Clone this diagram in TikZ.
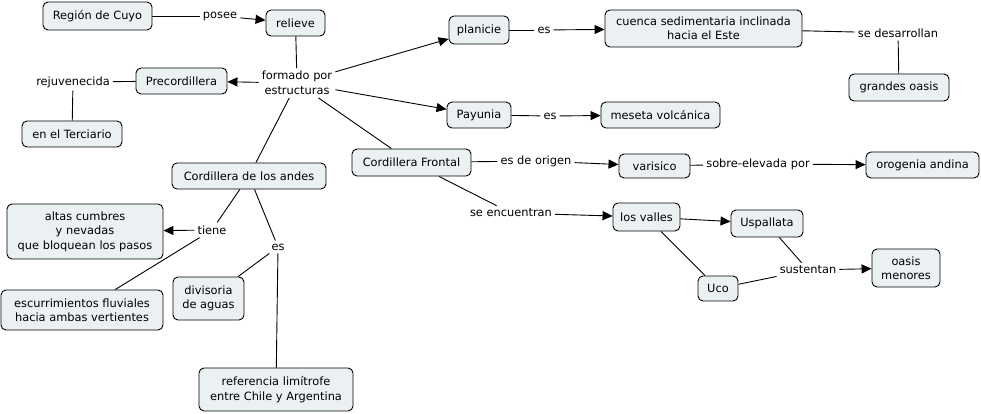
\documentclass[tikz,border=0pt]{standalone}
\usepackage{fontspec}
\setmainfont{DejaVu Sans}
\usetikzlibrary{arrows.meta}
\definecolor{boxfill}{HTML}{EBF1F3}
\begin{document}
\begin{tikzpicture}[x=1pt,y=-1pt,
  concept/.style={draw, rounded corners=5pt, fill=boxfill, align=center,
    font=\fontsize{11.4}{14.5}\selectfont, inner sep=0pt, line width=0.9pt},
  lbl/.style={align=center, font=\fontsize{11.4}{14.5}\selectfont, inner sep=3pt},
  link/.style={line width=0.9pt},
  arr/.style={link, -{Triangle[length=10pt,width=9pt]}}]
\useasboundingbox (0,0) rectangle (981,414);

% concepts
\node[concept, minimum width=109, minimum height=28] (cuyo) at (97.5,16) {Región de Cuyo};
\node[concept, minimum width=59, minimum height=26] (relieve) at (295.5,23) {relieve};
\node[concept, minimum width=91, minimum height=26] (precord) at (181.5,81) {Precordillera};
\node[concept, minimum width=100, minimum height=26] (terciario) at (72,134) {en el Terciario};
\node[concept, minimum width=60, minimum height=28] (planicie) at (479,30) {planicie};
\node[concept, minimum width=197, minimum height=37] (cuenca) at (703.5,28.5) {cuenca sedimentaria inclinada\\hacia el Este};
\node[concept, minimum width=100, minimum height=27] (grandes) at (899,87.5) {grandes oasis};
\node[concept, minimum width=64, minimum height=26] (payunia) at (479,115) {Payunia};
\node[concept, minimum width=119, minimum height=26] (meseta) at (660.5,115) {meseta volcánica};
\node[concept, minimum width=119, minimum height=27] (cfront) at (411.5,162.5) {Cordillera Frontal};
\node[concept, minimum width=71, minimum height=24] (varisico) at (654.5,166) {varisico};
\node[concept, minimum width=113, minimum height=26] (orogenia) at (922.5,165) {orogenia andina};
\node[concept, minimum width=67, minimum height=28] (valles) at (646.5,217) {los valles};
\node[concept, minimum width=72, minimum height=27] (uspallata) at (767,223.5) {Uspallata};
\node[concept, minimum width=68, minimum height=38] (omenores) at (906,268) {oasis\\menores};
\node[concept, minimum width=40, minimum height=25] (uco) at (718,288.5) {Uco};
\node[concept, minimum width=154, minimum height=26] (candes) at (249,176) {Cordillera de los andes};
\node[concept, minimum width=156, minimum height=55] (altas) at (85,231.5) {altas cumbres\\y nevadas\\que bloquean los pasos};
\node[concept, minimum width=162, minimum height=40] (escurr) at (82,310) {escurrimientos fluviales\\hacia ambas vertientes};
\node[concept, minimum width=71, minimum height=43] (divisoria) at (208.5,298.5) {divisoria\\de aguas};
\node[concept, minimum width=154, minimum height=43] (referencia) at (276,389.5) {referencia limítrofe\\entre Chile y Argentina};

% linking phrases
\node[lbl] (posee) at (220,16) {posee};
\node[lbl] (formado) at (297,83) {formado por\\estructuras};
\node[lbl] (rejuv) at (73,82) {rejuvenecida};
\node[lbl] (es1) at (544,30) {es};
\node[lbl] (sedesa) at (898,33) {se desarrollan};
\node[lbl] (es2) at (550,116) {es};
\node[lbl] (esorigen) at (536,161) {es de origen};
\node[lbl] (sobre) at (758,164) {sobre-elevada por};
\node[lbl] (seenc) at (511,213) {se encuentran};
\node[lbl] (sustentan) at (808,270) {sustentan};
\node[lbl] (tiene) at (212,230) {tiene};
\node[lbl] (es3) at (278,247) {es};

% connectors
\draw[link] (cuyo) -- (posee);
\draw[arr] (posee) -- (relieve);
\draw[link] (relieve) -- (formado);
\draw[arr] (formado) -- (precord);
\draw[arr] (formado) -- (planicie);
\draw[arr] (formado) -- (payunia);
\draw[link] (formado) -- (cfront);
\draw[link] (formado) -- (candes);
\draw[link] (precord) -- (rejuv);
\draw[link] (rejuv) -- (terciario);
\draw[link] (planicie) -- (es1);
\draw[arr] (es1) -- (cuenca);
\draw[link] (cuenca) -- (sedesa);
\draw[link] (sedesa) -- (grandes);
\draw[link] (payunia) -- (es2);
\draw[arr] (es2) -- (meseta);
\draw[link] (cfront) -- (esorigen);
\draw[arr] (esorigen) -- (varisico);
\draw[link] (varisico) -- (sobre);
\draw[arr] (sobre) -- (orogenia);
\draw[link] (cfront) -- (seenc);
\draw[arr] (seenc) -- (valles);
\draw[arr] (valles) -- (uspallata);
\draw[link] (valles) -- (uco);
\draw[link] (uspallata) -- (sustentan);
\draw[link] (uco) -- (sustentan);
\draw[arr] (sustentan) -- (omenores);
\draw[link] (candes) -- (tiene);
\draw[arr] (tiene) -- (altas);
\draw[link] (tiene) -- (escurr);
\draw[link] (candes) -- (es3);
\draw[link] (es3) -- (divisoria);
\draw[link] (es3) -- (referencia);
\end{tikzpicture}
\end{document}
